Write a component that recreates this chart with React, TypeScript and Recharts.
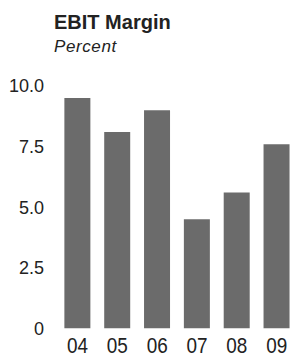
import { BarChart, Bar, XAxis, YAxis } from 'recharts'

const years = ['04', '05', '06', '07', '08', '09']
const margins = [9.5, 8.1, 9.0, 4.5, 5.6, 7.6]
const yTicks = [0, 2.5, 5, 7.5, 10]
const yTickLabels = ['0', '2.5', '5.0', '7.5', '10.0']

const data = years.map((year, i) => ({ year, value: margins[i] }))

const font = '"Liberation Sans", Arial, sans-serif'

// condensed-looking year labels: squeeze Arial horizontally
function YearTick(props: any) {
  const { x, y, payload } = props
  return (
    <text
      transform={`translate(${x},${y}) scale(0.86,1)`}
      textAnchor="middle"
      dy="0.71em"
      fill="#222"
      fontSize={22}
      fontFamily={font}
    >
      {payload.value}
    </text>
  )
}

export default function App() {
  return (
    <div
      style={{
        position: 'absolute',
        left: 0,
        top: 0,
        width: 293,
        height: 357,
        overflow: 'hidden',
        background: '#fff',
        fontFamily: font,
      }}
    >
      <div style={{ position: 'absolute', left: 54, top: 11.7, fontSize: 20, lineHeight: '20px', fontWeight: 'bold', color: '#222' }}>
        EBIT Margin
      </div>
      <div style={{ position: 'absolute', left: 54, top: 37.8, fontSize: 17, lineHeight: '17px', fontStyle: 'italic', color: '#222', letterSpacing: 0.6 }}>
        Percent
      </div>
      <div style={{ position: 'absolute', left: 0, top: 0 }}>
        <BarChart width={300} height={357} data={data} margin={{ top: 86, right: 3.4, bottom: 0, left: 2 }} barCategoryGap="17%">
          <XAxis
            dataKey="year"
            axisLine={false}
            tickLine={false}
            height={28.7}
            tickMargin={3.5}
            padding={{ left: 5.6, right: 0 }}
            tick={<YearTick />}
            interval={0}
          />
          <YAxis
            domain={[0, 10]}
            ticks={yTicks}
            width={50}
            axisLine={false}
            tickLine={false}
            tick={{ fill: '#222', fontSize: 18, fontFamily: font }}
            tickFormatter={(v: number) => yTickLabels[yTicks.indexOf(v)]}
          />
          <Bar dataKey="value" fill="#6b6b6b" isAnimationActive={false} />
        </BarChart>
      </div>
    </div>
  )
}
